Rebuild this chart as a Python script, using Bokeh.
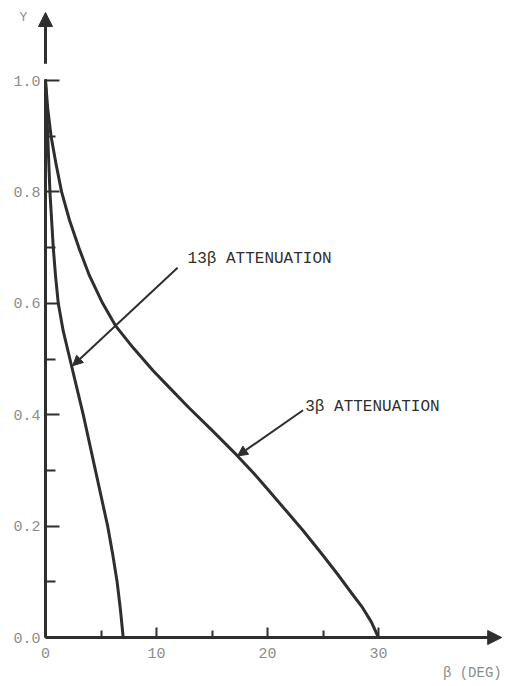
from bokeh.plotting import figure
from bokeh.models import (FixedTicker, Arrow, NormalHead, Label, Range1d,
                          CustomJSTickFormatter)
from bokeh.embed import file_html
from bokeh.resources import INLINE

# ---- data ----
beta_3 = [0, 0.2, 0.5, 0.95, 1.45, 2.15, 3.0, 3.95, 5.15, 6.3, 7.9, 9.7, 11.1, 12.9,
          15.1, 17.3, 18.8, 20.15, 21.7, 23.2, 24.9, 26.3, 27.6, 28.55, 29.35, 30.0]
y_3 = [1.0, 0.95, 0.9, 0.85, 0.8, 0.75, 0.7, 0.65, 0.6, 0.56, 0.52, 0.479, 0.45, 0.413,
       0.37, 0.326, 0.294, 0.263, 0.227, 0.192, 0.15, 0.114, 0.079, 0.054, 0.028, 0.0]

beta_13 = [0, 0.1, 0.2, 0.3, 0.4, 0.55, 0.7, 0.9, 1.15, 1.6, 2.2, 2.8, 3.4, 3.95,
           4.5, 5.05, 5.6, 6.05, 6.45, 6.75, 7.0]
y_13 = [1.0, 0.95, 0.9, 0.85, 0.8, 0.75, 0.7, 0.65, 0.6, 0.55, 0.5, 0.45, 0.4, 0.35,
        0.3, 0.25, 0.2, 0.15, 0.1, 0.05, 0.0]

x_major = [0, 10, 20, 30]
x_minor = [5, 15, 25]
y_major = [0.0, 0.2, 0.4, 0.6, 0.8, 1.0]
y_minor = [0.1, 0.3, 0.5, 0.7, 0.9]

label_13 = "13β ATTENUATION"
label_3 = "3β ATTENUATION"
x_title = "β (DEG)"
y_title = "Y"

# ---- styling ----
INK = "#2e2e2e"
GRAY = "#8c8c8c"
FONT = "Liberation Mono"

W, H = 504, 684
PX_X, PX_Y = 11.1, 557.0      # pixels per data unit
X0, Y0 = 45.0, 637.0          # pixel position of the origin

p = figure(width=W, height=H, output_backend="svg", toolbar_location=None,
           x_range=Range1d(-X0 / PX_X, (W - X0) / PX_X),
           y_range=Range1d(-(H - Y0) / PX_Y, Y0 / PX_Y),
           min_border_left=0, min_border_right=0, min_border_top=0,
           min_border_bottom=0)
p.outline_line_color = None
p.xgrid.visible = False
p.ygrid.visible = False
p.background_fill_color = "white"
p.border_fill_color = "white"

# x axis
xa = p.xaxis[0]
xa.fixed_location = 0
xa.bounds = (0, 40.5)
xa.ticker = FixedTicker(ticks=x_major, minor_ticks=x_minor)
xa.axis_line_width = 3
xa.axis_line_color = INK
xa.major_tick_in = 10
xa.major_tick_out = 0
xa.minor_tick_in = 7
xa.minor_tick_out = 0
xa.major_tick_line_width = 2
xa.minor_tick_line_width = 2
xa.major_tick_line_color = INK
xa.minor_tick_line_color = INK
xa.major_label_text_font = FONT
xa.major_label_text_font_size = "15px"
xa.major_label_text_color = GRAY
xa.major_label_standoff = 10

# y axis
ya = p.yaxis[0]
ya.fixed_location = 0
ya.bounds = (0, 1.0)
ya.ticker = FixedTicker(ticks=y_major, minor_ticks=y_minor)
ya.axis_line_width = 3
ya.axis_line_color = INK
ya.major_tick_in = 14
ya.major_tick_out = 0
ya.minor_tick_in = 10
ya.minor_tick_out = 0
ya.major_tick_line_width = 2
ya.minor_tick_line_width = 2
ya.major_tick_line_color = INK
ya.minor_tick_line_color = INK
ya.major_label_text_font = FONT
ya.major_label_text_font_size = "15px"
ya.major_label_text_color = GRAY
ya.major_label_standoff = 5
ya.formatter = CustomJSTickFormatter(code="return tick.toFixed(1);")

# curves
p.line(beta_3, y_3, line_width=3, line_color=INK, line_join="round", line_cap="round")
p.line(beta_13, y_13, line_width=3, line_color=INK, line_join="round", line_cap="round")

# axis arrows
p.add_layout(Arrow(x_start=0, y_start=1.03, x_end=0, y_end=1.122,
                   line_width=3, line_color=INK,
                   end=NormalHead(size=14, fill_color=INK, line_color=INK)))
p.add_layout(Arrow(x_start=36, y_start=0, x_end=41.1, y_end=0,
                   line_width=3, line_color=INK,
                   end=NormalHead(size=14, fill_color=INK, line_color=INK)))

# annotation arrows
p.add_layout(Arrow(x_start=11.9, y_start=0.664, x_end=2.45, y_end=0.488,
                   line_width=2, line_color=INK,
                   end=NormalHead(size=10, fill_color=INK, line_color=INK)))
p.add_layout(Arrow(x_start=23.2, y_start=0.408, x_end=17.3, y_end=0.326,
                   line_width=2, line_color=INK,
                   end=NormalHead(size=10, fill_color=INK, line_color=INK)))

# texts
p.add_layout(Label(x=12.8, y=0.679, text=label_13, text_font=FONT,
                   text_font_size="16px", text_color=INK,
                   text_align="left", text_baseline="middle"))
p.add_layout(Label(x=23.4, y=0.413, text=label_3, text_font=FONT,
                   text_font_size="16px", text_color=INK,
                   text_align="left", text_baseline="middle"))
p.add_layout(Label(x=41.1, y=-0.0646, text=x_title, text_font=FONT,
                   text_font_size="14px", text_color=GRAY,
                   text_align="right", text_baseline="middle"))
p.add_layout(Label(x=-1.98, y=1.113, text=y_title, text_font=FONT,
                   text_font_size="13px", text_color=GRAY,
                   text_align="center", text_baseline="middle"))

open("out.html", "w").write(file_html(p, INLINE))
